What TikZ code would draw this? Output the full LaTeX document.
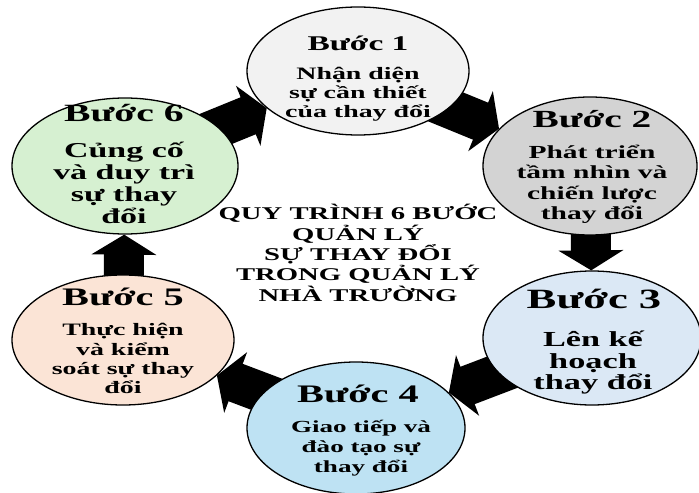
\documentclass[tikz,border=0pt]{standalone}
\usepackage{fontspec}
\newfontfamily\stepfont[FakeStretch=1.6]{Liberation Serif}
\usepackage{tikz}
\usetikzlibrary{arrows.meta,shapes.geometric,backgrounds,positioning}

\definecolor{fillone}{HTML}{F2F2F2}
\definecolor{filltwo}{HTML}{D3D3D3}
\definecolor{fillthree}{HTML}{DBE8F5}
\definecolor{fillfour}{HTML}{BEE2F3}
\definecolor{fillfive}{HTML}{FBE4D6}
\definecolor{fillsix}{HTML}{D6F0D1}

\begin{document}
\begin{tikzpicture}[
    x=1bp, y=-1bp,
    stepbox/.style={
        % the oval
        ellipse, draw=black, line width=1.3bp, inner sep=0pt},
    steptitle/.style={
        inner sep=0pt, anchor=base,
        font={\stepfont\bfseries\fontsize{#1}{#1}\selectfont}},
    steptext/.style args={#1/#2}{
        inner sep=0pt, anchor=north, align=center,
        font={\stepfont\bfseries\fontsize{#1}{#2}\selectfont}},
    blockarrow/.style={
        line width=40bp, draw=black, shorten <=-30bp,
        -{Triangle[length=20bp, width=64bp]}}]%六个步骤
  \useasboundingbox (0,0) rectangle (699,493);

  \node (step1) [stepbox, fill=fillone, minimum width=222bp, minimum height=128bp] at (358,71) {};
  \node (step2) [stepbox, fill=filltwo, minimum width=214bp, minimum height=138bp] at (590,166) {};
  \node (step3) [stepbox, fill=fillthree, minimum width=218bp, minimum height=134bp] at (592,338) {};
  \node (step4) [stepbox, fill=fillfour, minimum width=218bp, minimum height=132bp] at (356,428) {};
  \node (step5) [stepbox, fill=fillfive, minimum width=222bp, minimum height=130bp] at (123,340) {};
  \node (step6) [stepbox, fill=fillsix, minimum width=226bp, minimum height=136bp] at (125,166) {};

  \node (title1) [steptitle=21] at (358,51) {Bước 1};
  \node (text1) [steptext=17.5/19] at (358,67) {Nhận diện\\sự cần thiết\\của thay đổi};
  \node (title2) [steptitle=24.7] at (592,128) {Bước 2};
  \node (text2) [steptext=18.5/20.7] at (592,144.5) {Phát triển\\tầm nhìn và\\chiến lược\\thay đổi};
  \node (title3) [steptitle=28] at (594,308) {Bước 3};
  \node (text3) [steptext=21.5/21.5] at (593,331) {Lên kế\\hoạch\\thay đổi};
  \node (title4) [steptitle=25.3] at (358,402) {Bước 4};
  \node (text4) [steptext=17/20] at (361,420) {Giao tiếp và\\đào tạo sự\\thay đổi};
  \node (title5) [steptitle=25.3] at (123,305) {Bước 5};
  \node (text5) [steptext=17.5/19.3] at (123,323.5) {Thực hiện\\và kiểm\\soát sự thay\\đổi};
  \node (title6) [steptitle=24.9] at (124,122) {Bước 6};
  \node (text6) [steptext=21.3/22] at (124,142) {Củng cố\\và duy trì\\sự thay\\đổi};

  \node (center) [steptext=18/20.5] at (358,204) {QUY TRÌNH 6 BƯỚC\\QUẢN LÝ\\SỰ THAY ĐỔI\\TRONG QUẢN LÝ\\NHÀ TRƯỜNG};

  \begin{scope}[on background layer]
    \draw[blockarrow] (step1) -- (step2);
    \draw[blockarrow] (step2) -- (step3);
    \draw[blockarrow] (step3) -- (step4);
    \draw[blockarrow] (step4) -- (step5);
    \draw[blockarrow] (step5) -- (step6);
    \draw[blockarrow] (step6) -- (step1);
  \end{scope}
\end{tikzpicture}
\end{document}
